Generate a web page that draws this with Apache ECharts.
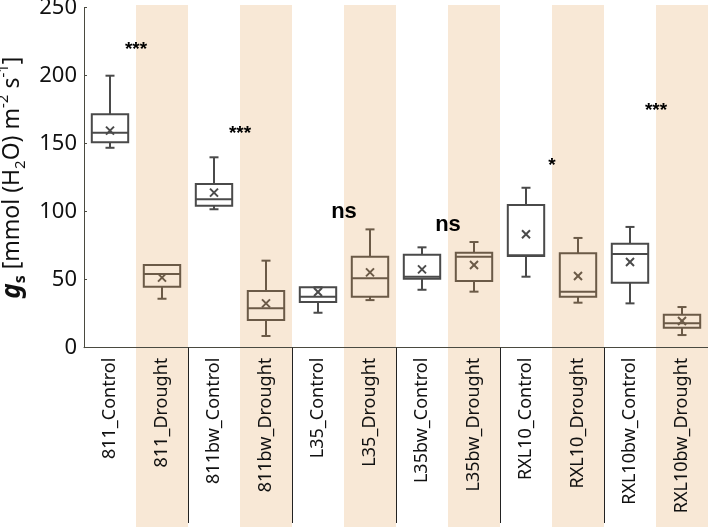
<!DOCTYPE html>
<html><head><meta charset="utf-8">
<script src="https://cdn.jsdelivr.net/npm/echarts@6/dist/echarts.min.js"></script>
<style>html,body{margin:0;padding:0;background:#fff}#c{width:708px;height:527px}</style>
</head><body><div id="c"></div>
<script>
const categories = ['811_Control','811_Drought','811bw_Control','811bw_Drought','L35_Control','L35_Drought',
  'L35bw_Control','L35bw_Drought','RXL10_Control','RXL10_Drought','RXL10bw_Control','RXL10bw_Drought'];
const minVals    = [147, 36, 101.8,  8.6, 25.7, 35, 42.6, 41.2, 52.2, 33.1, 32.6,  9.3];
const q1Vals     = [151, 44.9, 104.4, 20.4, 33.6, 37.5, 50.7, 49, 67.4, 37.5, 47.8, 14.7];
const medianVals = [158.1, 54.2, 109.1, 29, 37.5, 51, 52.2, 66.9, 68, 41.2, 68.9, 17.9];
const q3Vals     = [171.6, 60.8, 120.4, 41.7, 44.4, 66.9, 68.4, 69.9, 104.9, 69.4, 76.5, 24.3];
const maxVals    = [200, 60.8, 140, 64, 44.4, 87, 73.8, 77.7, 117.6, 80.7, 88.8, 29.9];
const meanVals   = [159.6, 51.5, 114, 32.6, 41, 55.4, 57.6, 60.8, 83.4, 52.7, 63, 19.6];
const sigLabels  = ['***','***','ns','ns','*','***'];
const sigPairs   = [0, 2, 4, 6, 8, 10];
const sigY       = [219, 157, 100, 90, 134, 174];
const droughtIdx = [1, 3, 5, 7, 9, 11];
const dividerIdx = [1, 3, 5, 7, 9];

const CONTROL = '#4a4a4a', DROUGHT = '#6b5a47', BAND = '#F8E8D6', AXIS = '#4a4a40';
const FONT = '"Noto Sans", "Open Sans", sans-serif';

const boxData = categories.map((c, i) => [i, minVals[i], q1Vals[i], medianVals[i], q3Vals[i], maxVals[i], meanVals[i]]);

const chart = echarts.init(document.getElementById('c'));
chart.setOption({
  animation: false,
  grid: {left: 84, right: 0, top: 7.7, bottom: 179.3, outerBoundsMode: 'none', containLabel: false},
  xAxis: {
    type: 'category', data: categories,
    axisLine: {show: true, lineStyle: {color: AXIS, width: 1}},
    axisTick: {show: false},
    axisLabel: {rotate: 90, fontSize: 18, color: '#111', fontFamily: FONT, margin: 10, interval: 0},
    splitLine: {show: false}
  },
  yAxis: {
    type: 'value', min: 0, max: 250, interval: 50,
    axisLine: {show: true, lineStyle: {color: AXIS, width: 1}},
    axisTick: {show: true, inside: true, length: 3, lineStyle: {color: AXIS}},
    axisLabel: {fontSize: 22, color: '#111', fontFamily: FONT, margin: 7},
    splitLine: {show: false},
    name: '{g|g}{s|s}{n| [mmol (H}{sub|2}{n|O) m}{sup|-2}{n| s}{sup|-1}{n|]}',
    nameLocation: 'middle', nameRotate: 90, nameGap: 54,
    nameTextStyle: {
      color: '#111', fontFamily: FONT,
      rich: {
        g: {fontSize: 26, fontWeight: 'bold', fontStyle: 'italic', fontFamily: FONT, lineHeight: 32, color: '#111'},
        s: {fontSize: 16, fontWeight: 'bold', fontFamily: FONT, verticalAlign: 'bottom', color: '#111'},
        n: {fontSize: 23, fontFamily: FONT, lineHeight: 32, color: '#111'},
        sub: {fontSize: 15, fontFamily: FONT, verticalAlign: 'bottom', color: '#111'},
        sup: {fontSize: 15, fontFamily: FONT, verticalAlign: 'top', color: '#111'}
      }
    }
  },
  series: [
    {
      type: 'custom', z: -1, clip: false, silent: true,
      data: droughtIdx.map(i => [i, 0]),
      encode: {x: 0, y: 1},
      renderItem(params, api) {
        const x = api.coord([api.value(0), 0])[0];
        const w = api.size([1, 0])[0];
        return {type: 'rect', shape: {x: x - w / 2, y: 5, width: w, height: 522}, style: {fill: BAND}};
      }
    },
    {
      type: 'custom', z: 1, clip: false, silent: true,
      data: dividerIdx.map(i => [i, 0]),
      encode: {x: 0, y: 1},
      renderItem(params, api) {
        const p = api.coord([api.value(0), 0]);
        const w = api.size([1, 0])[0];
        const x = Math.round(p[0] + w / 2) + 0.5;
        return {type: 'line', shape: {x1: x, y1: p[1], x2: x, y2: 523}, style: {stroke: '#222', lineWidth: 1}};
      }
    },
    {
      type: 'custom', z: 3, clip: false,
      data: boxData,
      encode: {x: 0, y: [1, 2, 3, 4, 5, 6]},
      renderItem(params, api) {
        const idx = api.value(0);
        const cx = api.coord([idx, 0])[0];
        const yMin = api.coord([idx, api.value(1)])[1];
        const yQ1 = api.coord([idx, api.value(2)])[1];
        const yMed = api.coord([idx, api.value(3)])[1];
        const yQ3 = api.coord([idx, api.value(4)])[1];
        const yMax = api.coord([idx, api.value(5)])[1];
        const yMean = api.coord([idx, api.value(6)])[1];
        const w = api.size([1, 0])[0] * 0.7;
        const col = idx % 2 ? DROUGHT : CONTROL;
        const st = {stroke: col, lineWidth: 2, fill: null};
        const cap = 4.5, m = 4;
        const kids = [
          {type: 'line', shape: {x1: cx, y1: yQ3, x2: cx, y2: yMax}, style: st},
          {type: 'line', shape: {x1: cx, y1: yQ1, x2: cx, y2: yMin}, style: st},
          {type: 'line', shape: {x1: cx - cap, y1: yMax, x2: cx + cap, y2: yMax}, style: st},
          {type: 'line', shape: {x1: cx - cap, y1: yMin, x2: cx + cap, y2: yMin}, style: st},
          {type: 'rect', shape: {x: cx - w / 2, y: yQ3, width: w, height: yQ1 - yQ3}, style: {stroke: col, lineWidth: 2, fill: null}},
          {type: 'line', shape: {x1: cx - w / 2, y1: yMed, x2: cx + w / 2, y2: yMed}, style: st},
          {type: 'line', shape: {x1: cx - m, y1: yMean - m, x2: cx + m, y2: yMean + m}, style: st},
          {type: 'line', shape: {x1: cx - m, y1: yMean + m, x2: cx + m, y2: yMean - m}, style: st}
        ];
        return {type: 'group', children: kids};
      }
    },
    {
      type: 'custom', z: 4, clip: false, silent: true,
      data: sigPairs.map((p, i) => [p, sigY[i], i]),
      encode: {x: 0, y: 1},
      renderItem(params, api) {
        const idx = api.value(0);
        const p = api.coord([idx, api.value(1)]);
        const w = api.size([1, 0])[0];
        const label = sigLabels[api.value(2)];
        const isNs = label === 'ns';
        return {type: 'text', x: p[0] + w / 2, y: p[1],
          style: {text: label, fill: '#000', font: (isNs ? 'bold 22px' : 'bold 19px') + ' "Liberation Sans", Arial, sans-serif',
            textAlign: 'center', textVerticalAlign: 'middle'}};
      }
    }
  ]
});
</script></body></html>
